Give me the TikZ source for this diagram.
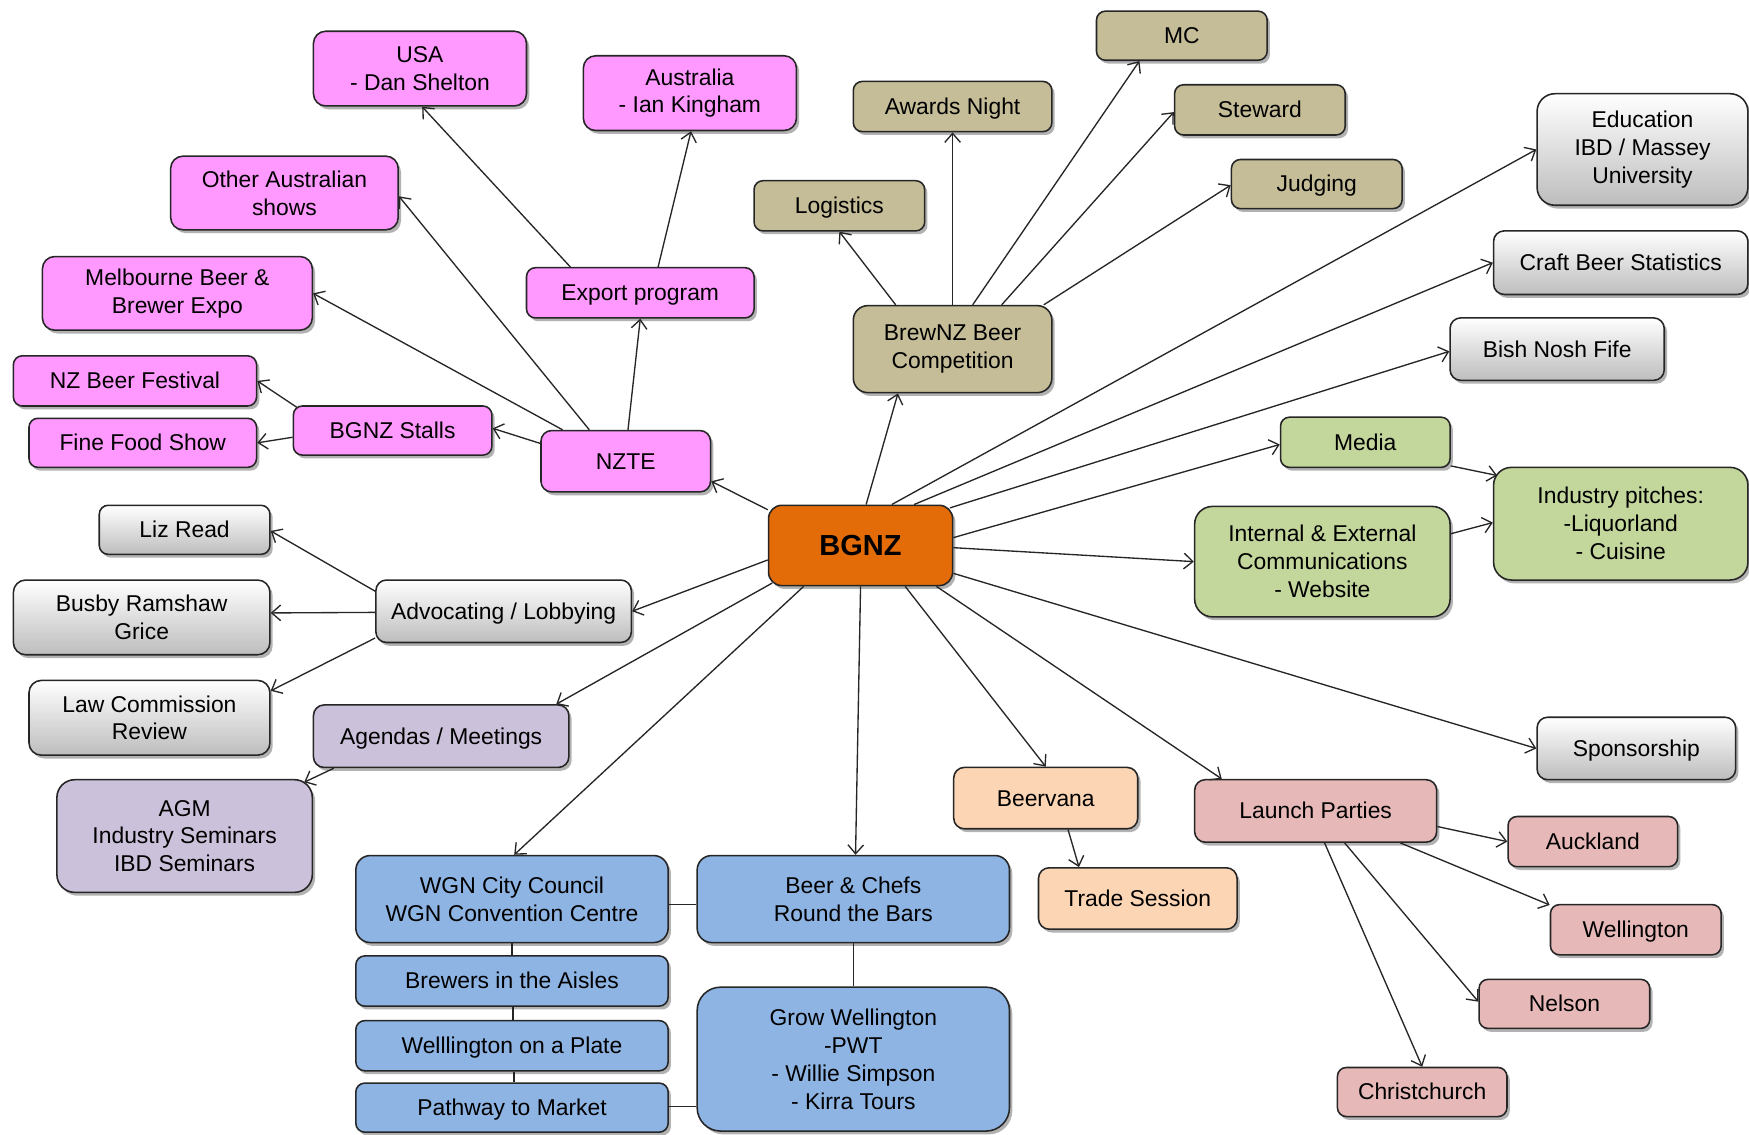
\documentclass[tikz,border=0pt]{standalone}
\usepackage{fontspec}
\setmainfont{Liberation Sans}
\usetikzlibrary{shadows,calc,arrows.meta}
\definecolor{cpink}{HTML}{FF99FF}
\definecolor{colive}{HTML}{C4BD97}
\definecolor{cgreen}{HTML}{C3D69B}
\definecolor{corange}{HTML}{E36C09}
\definecolor{cpurple}{HTML}{CCC1DA}
\definecolor{cpeach}{HTML}{FCD5B5}
\definecolor{crose}{HTML}{E6B9B8}
\definecolor{cblue}{HTML}{8EB4E3}
\definecolor{cborder}{HTML}{262626}
\definecolor{cgraybot}{HTML}{BDBDBD}
\tikzset{
  bx/.style={draw=cborder, line width=1.4pt, align=center, inner sep=0pt,
    font=\fontsize{20.5}{25}\selectfont,
    drop shadow={shadow xshift=2.5pt, shadow yshift=-3pt, fill=black, opacity=0.3}},
  sz/.style n args={3}{minimum width=#1pt, minimum height=#2pt, rounded corners=#3pt},
  one/.style={text height=18.5pt, text depth=4.3pt},
  pk/.style={bx, fill=cpink},
  ol/.style={bx, fill=colive},
  gy/.style={bx, top color=white, bottom color=cgraybot},
  gn/.style={bx, fill=cgreen},
  pu/.style={bx, fill=cpurple},
  pe/.style={bx, fill=cpeach},
  ro/.style={bx, fill=crose},
  bl/.style={bx, fill=cblue},
  ar/.style={-{Straight Barb[length=8pt,width=14pt]}, line width=1.2pt, draw=cborder},
  ln/.style={line width=1.3pt, draw=cborder},
}
\begin{document}
\begin{tikzpicture}[x=1pt,y=-1pt]
\fill[white] (0,0) rectangle (1568,1017);
\useasboundingbox (0,0) rectangle (1568,1017);

% pink
\node[pk, sz={191}{67}{11}] (usa) at (376.5,61.5) {USA\\- Dan Shelton};
\node[pk, sz={191}{67}{11}] (aus) at (618.5,83.5) {Australia\\- Ian Kingham};
\node[pk, sz={204}{66}{11}] (oth) at (255,173) {Other Australian\\shows};
\node[pk, sz={242}{66}{11}] (melb) at (159,263) {Melbourne Beer \&\\Brewer Expo};
\node[pk, one, sz={204}{45}{8}] (exp) at (574,262.5) {Export program};
\node[pk, one, sz={218}{45}{8}] (nzbf) at (121,341.5) {NZ Beer Festival};
\node[pk, one, sz={204}{44}{8}] (ffs) at (128,397) {Fine Food Show};
\node[pk, one, sz={178}{44}{8}] (stalls) at (352,386) {BGNZ Stalls};
\node[pk, one, sz={152}{55}{9.5}] (nzte) at (561,413.5) {NZTE};

% olive
\node[ol, one, sz={153}{44}{8}] (mc) at (1059.5,32) {MC};
\node[ol, one, sz={178}{45}{8}] (awards) at (854,95.5) {Awards Night};
\node[ol, one, sz={153}{45}{8}] (steward) at (1129.5,98.5) {Steward};
\node[ol, one, sz={153}{44}{8}] (judging) at (1180.5,165) {Judging};
\node[ol, one, sz={153}{45}{8}] (logistics) at (752.5,184.5) {Logistics};
\node[ol, sz={178}{78}{13}] (brewnz) at (854,313) {BrewNZ Beer\\Competition};

% gray
\node[gy, sz={189}{100}{16}] (edu) at (1472.5,134) {Education\\IBD / Massey\\University};
\node[gy, one, sz={228}{57}{9.5}] (craft) at (1453,235.5) {Craft Beer Statistics};
\node[gy, one, sz={192}{56}{9.5}] (bish) at (1396,313) {Bish Nosh Fife};
\node[gy, one, sz={153}{44}{8}] (liz) at (165.5,475) {Liz Read};
\node[gy, sz={230}{67}{11}] (busby) at (127,553.5) {Busby Ramshaw\\Grice};
\node[gy, one, sz={229}{56}{9.5}] (advoc) at (451.5,548) {Advocating / Lobbying};
\node[gy, sz={216}{67}{11}] (law) at (134,643.5) {Law Commission\\Review};
\node[gy, one, sz={178}{56}{9.5}] (spons) at (1467,671) {Sponsorship};

% green
\node[gn, one, sz={152}{45}{8}] (media) at (1224,396.5) {Media};
\node[gn, sz={229}{99}{16}] (intext) at (1185.5,503.5) {Internal \& External\\Communications\\- Website};
\node[gn, sz={228}{101}{16}] (indus) at (1453,469.5) {Industry pitches:\\-Liquorland\\- Cuisine};

% hub
\node[bx, fill=corange, sz={165}{72}{12}, font=\fontsize{26}{30}\selectfont\bfseries] (bgnz) at (771.5,489) {BGNZ};

% purple
\node[pu, one, sz={229}{56}{9.5}] (agendas) at (395.5,660) {Agendas / Meetings};
\node[pu, sz={229}{101}{16}] (agm) at (165.5,749.5) {AGM\\Industry Seminars\\IBD Seminars};

% peach
\node[pe, one, sz={165}{55}{9.5}] (beervana) at (937.5,715.5) {Beervana};
\node[pe, one, sz={178}{55}{9.5}] (trade) at (1020,805.5) {Trade Session};

% rose
\node[ro, one, sz={217}{56}{9.5}] (launch) at (1179.5,727) {Launch Parties};
\node[ro, one, sz={152}{45}{8}] (auck) at (1428,754.5) {Auckland};
\node[ro, one, sz={153}{45}{8}] (wellington) at (1466.5,833.5) {Wellington};
\node[ro, one, sz={153}{44}{8}] (nelson) at (1402.5,900) {Nelson};
\node[ro, one, sz={152}{44}{8}] (chch) at (1275,979) {Christchurch};

% blue
\node[bl, sz={280}{78}{13}] (wgn) at (459,806) {WGN City Council\\WGN Convention Centre};
\node[bl, sz={280}{78}{13}] (chefs) at (765,806) {Beer \& Chefs\\Round the Bars};
\node[bl, one, sz={280}{45}{8}] (brewers) at (459,879.5) {Brewers in the Aisles};
\node[bl, one, sz={280}{45}{8}] (plate) at (459,937.5) {Welllington on a Plate};
\node[bl, one, sz={280}{44}{8}] (pathway) at (459,993) {Pathway to Market};
\node[bl, sz={280}{129}{21}] (grow) at (765,949.5) {Grow Wellington\\-PWT\\- Willie Simpson\\- Kirra Tours};

% connectors
\draw[ar] ($(bgnz.west)+(0,-32)$) -- ($(nzte.east)+(0,18)$);
\draw[ar] ($(nzte.west)+(0,-16)$) -- ($(stalls.east)+(0,-2)$);
\draw[ar] ($(stalls.north west)+(4,2)$) -- (nzbf.east);
\draw[ar] ($(stalls.west)+(0,6)$) -- (ffs.east);
\draw[ar] ($(nzte.north west)+(20,0)$) -- (melb.east);
\draw[ar] ($(nzte.north west)+(44,0)$) -- ($(oth.east)+(0,3)$);
\draw[ar] ($(nzte.north)+(2,0)$) -- (exp.south);
\draw[ar] ($(exp.north west)+(40,0)$) -- ($(usa.south)+(2,0)$);
\draw[ar] ($(exp.north)+(16,0)$) -- ($(aus.south)+(1,0)$);

\draw[ar] ($(bgnz.north)+(5,0)$) -- ($(brewnz.south)+(-49,0)$);
\draw[ar] ($(brewnz.north)+(-51,0)$) -- (logistics.south);
\draw[ar] (brewnz.north) -- (awards.south);
\draw[ar] ($(brewnz.north)+(18,0)$) -- ($(mc.south)+(-38,0)$);
\draw[ar] ($(brewnz.north)+(44,0)$) -- ($(steward.west)+(0,2)$);
\draw[ar] ($(brewnz.north east)+(-8,0)$) -- ($(judging.west)+(0,1)$);

\draw[ar] ($(bgnz.north)+(28,0)$) -- (edu.west);
\draw[ar] ($(bgnz.north)+(48,0)$) -- (craft.west);
\draw[ar] ($(bgnz.north east)+(-3,3)$) -- ($(bish.west)+(0,2)$);
\draw[ar] ($(bgnz.east)+(0,-7)$) -- ($(media.west)+(0,2)$);
\draw[ar] ($(bgnz.east)+(0,2)$) -- (intext.west);
\draw[ar] ($(media.south east)+(0,-2)$) -- ($(indus.north west)+(4,8)$);
\draw[ar] ($(intext.east)+(0,-25)$) -- ($(indus.west)+(0,-1)$);
\draw[ar] ($(bgnz.east)+(0,25)$) -- (spons.west);

\draw[ar] ($(bgnz.south)+(68,0)$) -- ($(launch.north west)+(25,0)$);
\draw[ar] ($(launch.east)+(0,14)$) -- (auck.west);
\draw[ar] ($(launch.south)+(76,0)$) -- ($(wellington.north west)+(0,1)$);
\draw[ar] ($(launch.south)+(26,0)$) -- ($(nelson.west)+(0,-2)$);
\draw[ar] ($(launch.south)+(8,0)$) -- (chch.north);

\draw[ar] ($(bgnz.south)+(40,0)$) -- (beervana.north);
\draw[ar] ($(beervana.south)+(20,0)$) -- ($(trade.north west)+(37,0)$);
\draw[ar] (bgnz.south) -- ($(chefs.north)+(2,0)$);
\draw[ar] ($(bgnz.south)+(-51,0)$) -- ($(wgn.north)+(2,0)$);
\draw[ar] ($(bgnz.south west)+(4,-3)$) -- ($(agendas.north east)+(-12,0)$);
\draw[ar] ($(bgnz.west)+(0,13)$) -- (advoc.east);

\draw[ar] ($(advoc.west)+(0,-18)$) -- ($(liz.east)+(0,1)$);
\draw[ar] ($(advoc.west)+(0,1)$) -- ($(busby.east)+(0,-4)$);
\draw[ar] ($(advoc.west)+(0,24)$) -- ($(law.north east)+(0,10)$);
\draw[ar] ($(agendas.south west)+(19,0)$) -- ($(agm.north east)+(-8,3)$);

% blue links
\draw[ln] ($(wgn.east)+(0,5)$) -- ($(chefs.west)+(0,5)$);
\draw[ln] (wgn.south) -- (brewers.north);
\draw[ln] ($(brewers.south)+(1,0)$) -- ($(plate.north)+(1,0)$);
\draw[ln] ($(plate.south)+(2,0)$) -- ($(pathway.north)+(2,0)$);
\draw[ln] (chefs.south) -- (grow.north);
\draw[ln] ($(pathway.east)+(0,-1)$) -- ($(pathway.east -| grow.west)+(0,-1)$);
\end{tikzpicture}
\end{document}
